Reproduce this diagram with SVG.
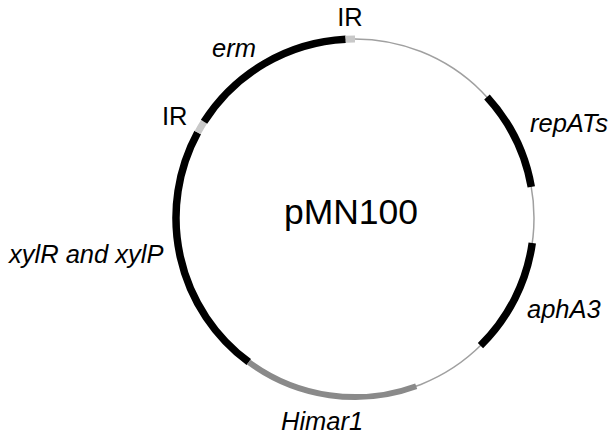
<svg xmlns="http://www.w3.org/2000/svg" width="611" height="436" viewBox="0 0 611 436">
<style>
.bb{fill:none;stroke:#000;stroke-width:7.5;stroke-linecap:butt}
.hm{fill:none;stroke:#8a8a8a;stroke-width:6;stroke-linecap:butt}
.ir{fill:none;stroke:#c8c8c8;stroke-width:7;stroke-linecap:butt}
.bk{fill:none;stroke:#a0a0a0;stroke-width:1.5}
.lb{font-family:"Liberation Sans",Arial,sans-serif;font-size:25.5px;fill:#000}
.it{font-style:italic}
</style>
<rect width="611" height="436" fill="#fff"/>
<g id="backbone"><circle class="bk" cx="355" cy="218" r="179"/></g>
<g id="connectors"></g>
<g id="xyl"><path class="bb" d="M248.78 362.08 A179 179 0 0 1 197.69 132.58"/><text class="lb it" x="9" y="263">xylR and xylP</text></g>
<g id="ir-left"><path class="ir" d="M197.69 132.58 A179 179 0 0 1 204.03 121.82"/><text class="lb" x="162" y="125">IR</text></g>
<g id="erm"><path class="bb" d="M204.03 121.82 A179 179 0 0 1 345.63 39.25"/><text class="lb it" x="212" y="57">erm</text></g>
<g id="ir-top"><path class="ir" d="M345.63 39.25 A179 179 0 0 1 355 39"/><text class="lb" x="350" y="26" text-anchor="middle">IR</text></g>
<g id="repATs"><path class="bb" d="M486.98 97.07 A179 179 0 0 1 531.28 186.92"/><text class="lb it" x="530" y="132">repATs</text></g>
<g id="aphA3"><path class="bb" d="M532.26 242.91 A179 179 0 0 1 480.46 345.68"/><text class="lb it" x="527" y="318">aphA3</text></g>
<g id="himar1"><path class="hm" d="M416.22 386.21 A179 179 0 0 1 248.78 362.08"/><text class="lb it" x="281" y="430">Himar1</text></g>
<g id="title"><text class="lb" x="351" y="224" text-anchor="middle" style="font-size:35.5px">pMN100</text></g>
</svg>
